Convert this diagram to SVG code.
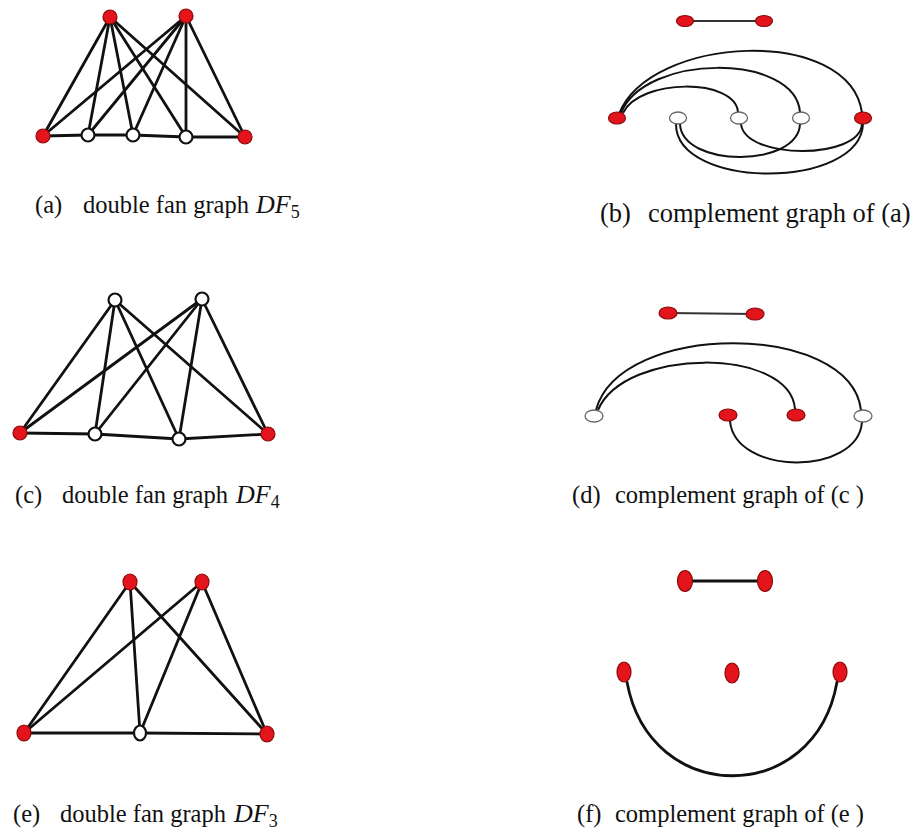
<svg xmlns="http://www.w3.org/2000/svg" width="914" height="831" viewBox="0 0 914 831">
<style>
.e{stroke:#111;stroke-width:2.8;fill:none;stroke-linecap:round}
.a{stroke:#111;stroke-width:2;fill:none}
.t{stroke:#333;stroke-width:1.8;fill:none}
.r{fill:#e3141c;stroke:#8a0a0a;stroke-width:1.2}
.w{fill:#fff;stroke:#111;stroke-width:2.2}
.wg{fill:#fff;stroke:#666;stroke-width:1.3}
.lb{font-family:"Liberation Serif","Times New Roman",serif;font-size:24.5px;fill:#111}
.it{font-style:italic;font-size:26px}
.sb{font-size:18px}
</style>
<rect width="914" height="831" fill="#fff"/>
<g id="connectors">
<g id="edges-a">
<line class="e" x1="110" y1="17" x2="43" y2="136"/>
<line class="e" x1="110" y1="17" x2="88" y2="135"/>
<line class="e" x1="110" y1="17" x2="133" y2="135"/>
<line class="e" x1="110" y1="17" x2="186" y2="137"/>
<line class="e" x1="110" y1="17" x2="245" y2="137"/>
<line class="e" x1="186" y1="16" x2="43" y2="136"/>
<line class="e" x1="186" y1="16" x2="88" y2="135"/>
<line class="e" x1="186" y1="16" x2="133" y2="135"/>
<line class="e" x1="186" y1="16" x2="186" y2="137"/>
<line class="e" x1="186" y1="16" x2="245" y2="137"/>
<polyline class="e" points="43,136 88,135 133,135 186,137 245,137"/>
</g>
<g id="edges-b">
<line class="t" x1="685" y1="21" x2="764" y2="21"/>
<path class="a" d="M619,114 C650,35 850,25 862,113"/>
<path class="a" d="M621,113 C645,53 795,53 800,112"/>
<path class="a" d="M623,113 C640,78 735,78 738,112"/>
<path class="a" d="M680,124 C682,168 798,168 800,124"/>
<path class="a" d="M741,124 C745,160 860,160 862,124"/>
<path class="a" d="M676,124 C676,190 860,190 863,124"/>
</g>
<g id="edges-c">
<line class="e" x1="115" y1="300" x2="20" y2="433"/>
<line class="e" x1="115" y1="300" x2="95" y2="434"/>
<line class="e" x1="115" y1="300" x2="179" y2="439"/>
<line class="e" x1="115" y1="300" x2="268" y2="434"/>
<line class="e" x1="202" y1="299" x2="20" y2="433"/>
<line class="e" x1="202" y1="299" x2="95" y2="434"/>
<line class="e" x1="202" y1="299" x2="179" y2="439"/>
<line class="e" x1="202" y1="299" x2="268" y2="434"/>
<polyline class="e" points="20,433 95,434 179,439 268,434"/>
</g>
<g id="edges-d">
<line class="t" x1="668" y1="313" x2="755" y2="314"/>
<path class="a" d="M596,410 C620,321 850,321 861,410"/>
<path class="a" d="M598,410 C625,347 790,347 795,409"/>
<path class="a" d="M730,421 C735,476 858,476 862,422"/>
</g>
<g id="edges-e">
<line class="e" x1="130" y1="582" x2="24" y2="733"/>
<line class="e" x1="130" y1="582" x2="140" y2="733"/>
<line class="e" x1="130" y1="582" x2="267" y2="734"/>
<line class="e" x1="202" y1="582" x2="24" y2="733"/>
<line class="e" x1="202" y1="582" x2="140" y2="733"/>
<line class="e" x1="202" y1="582" x2="267" y2="734"/>
<polyline class="e" points="24,733 140,733 267,734"/>
</g>
<g id="edges-f">
<line class="e" style="stroke-width:3" x1="685" y1="581" x2="765" y2="581"/>
<path class="e" d="M627,682 C650,807 815,807 837,682"/>
</g>
</g>
<g id="a-h1"><circle class="r" cx="110" cy="17" r="7"/></g>
<g id="a-h2"><circle class="r" cx="186" cy="16" r="7"/></g>
<g id="a-p1"><circle class="r" cx="43" cy="136" r="7"/></g>
<g id="a-p2"><circle class="w" cx="88" cy="135" r="6.5"/></g>
<g id="a-p3"><circle class="w" cx="133" cy="135" r="6.5"/></g>
<g id="a-p4"><circle class="w" cx="186" cy="137" r="6.5"/></g>
<g id="a-p5"><circle class="r" cx="245" cy="137" r="7"/></g>
<g id="b-h1"><ellipse class="r" cx="685" cy="21" rx="8.5" ry="5.5"/></g>
<g id="b-h2"><ellipse class="r" cx="764" cy="21" rx="8.5" ry="5.5"/></g>
<g id="b-p1"><ellipse class="r" cx="617" cy="118" rx="8.5" ry="6"/></g>
<g id="b-p2"><ellipse class="wg" cx="678" cy="118" rx="8.5" ry="6"/></g>
<g id="b-p3"><ellipse class="wg" cx="739" cy="118" rx="8.5" ry="6"/></g>
<g id="b-p4"><ellipse class="wg" cx="801" cy="118" rx="8.5" ry="6"/></g>
<g id="b-p5"><ellipse class="r" cx="863" cy="118" rx="8.5" ry="6"/></g>
<g id="c-h1"><circle class="w" cx="115" cy="300" r="6.5"/></g>
<g id="c-h2"><circle class="w" cx="202" cy="299" r="6.5"/></g>
<g id="c-p1"><circle class="r" cx="20" cy="433" r="7"/></g>
<g id="c-p2"><circle class="w" cx="95" cy="434" r="6.5"/></g>
<g id="c-p3"><circle class="w" cx="179" cy="439" r="6.5"/></g>
<g id="c-p4"><circle class="r" cx="268" cy="434" r="7"/></g>
<g id="d-h1"><ellipse class="r" cx="668" cy="313" rx="9" ry="6"/></g>
<g id="d-h2"><ellipse class="r" cx="755" cy="314" rx="9" ry="6"/></g>
<g id="d-p1"><ellipse class="wg" cx="594" cy="416" rx="9" ry="6"/></g>
<g id="d-p2"><ellipse class="r" cx="728" cy="415" rx="9" ry="6"/></g>
<g id="d-p3"><ellipse class="r" cx="796" cy="415" rx="9" ry="6"/></g>
<g id="d-p4"><ellipse class="wg" cx="863" cy="416" rx="9" ry="6"/></g>
<g id="e-h1"><ellipse class="r" cx="130" cy="582" rx="7" ry="8"/></g>
<g id="e-h2"><ellipse class="r" cx="202" cy="582" rx="7" ry="8"/></g>
<g id="e-p1"><ellipse class="r" cx="24" cy="733" rx="7" ry="8"/></g>
<g id="e-p2"><ellipse class="w" cx="140" cy="733" rx="6" ry="7.5"/></g>
<g id="e-p3"><ellipse class="r" cx="267" cy="734" rx="7" ry="8"/></g>
<g id="f-h1"><ellipse class="r" cx="685" cy="581" rx="7.5" ry="10.5"/></g>
<g id="f-h2"><ellipse class="r" cx="765" cy="581" rx="7.5" ry="10.5"/></g>
<g id="f-p1"><ellipse class="r" cx="624" cy="672" rx="7" ry="10"/></g>
<g id="f-p2"><ellipse class="r" cx="732" cy="673" rx="7" ry="10"/></g>
<g id="f-p3"><ellipse class="r" cx="840" cy="672" rx="7" ry="10"/></g>
<g id="labels">
<text class="lb" x="35" y="213">(a)<tspan x="83">double fan graph</tspan><tspan class="it" x="256">DF</tspan><tspan class="sb" dy="5">5</tspan></text>
<text class="lb" x="600" y="222" style="font-size:26.5px">(b)<tspan x="648">complement graph of (a)</tspan></text>
<text class="lb" x="15" y="503">(c)<tspan x="62">double fan graph</tspan><tspan class="it" x="236">DF</tspan><tspan class="sb" dy="5">4</tspan></text>
<text class="lb" x="572" y="503">(d)<tspan x="615">complement graph of (c )</tspan></text>
<text class="lb" x="13" y="822">(e)<tspan x="60">double fan graph</tspan><tspan class="it" x="234">DF</tspan><tspan class="sb" dy="5">3</tspan></text>
<text class="lb" x="577" y="822">(f)<tspan x="615">complement graph of (e )</tspan></text>
</g>
</svg>
